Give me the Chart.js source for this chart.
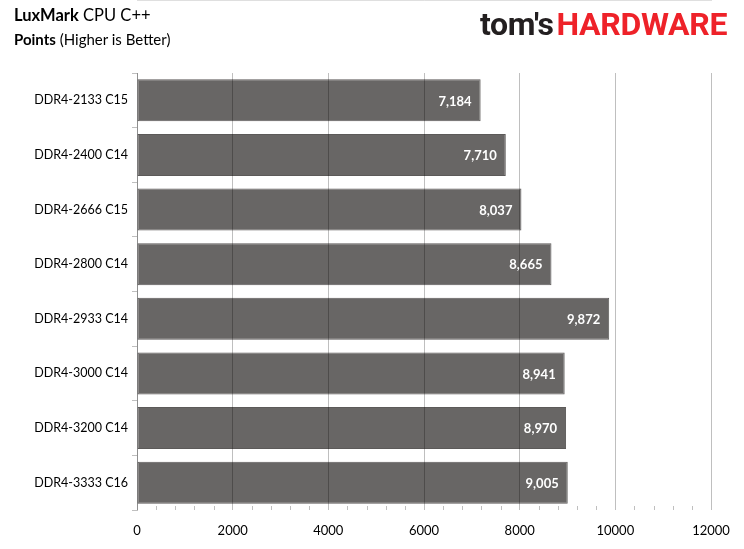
<!DOCTYPE html>
<html>
<head>
<meta charset="utf-8">
<script src="https://cdn.jsdelivr.net/npm/chart.js@4"></script>
<style>
  html, body { margin: 0; padding: 0; background: #fff; }
  #wrap { position: relative; width: 744px; height: 549px; }
  #chart { position: absolute; left: 0; top: 0; }
  .title { position: absolute; left: 14px; top: 5px; font: 16.5px Lato, sans-serif; color: #000; }
  .sub { position: absolute; left: 14px; top: 30px; font: 15px Lato, sans-serif; color: #000; }
  .logo { position: absolute; left: 480px; top: 5px; font: bold 32px Roboto, sans-serif; letter-spacing: -0.3px; }
  .logo .a { color: #231f20; margin-right: 3px; }
  .logo .b { color: #ee2229; }
</style>
</head>
<body>
<div id="wrap">
  <canvas id="chart" width="744" height="549"></canvas>
  <div class="title"><b>LuxMark</b> CPU C++</div>
  <div class="sub"><b>Points</b> (Higher is Better)</div>
  <div class="logo"><span class="a">tom's</span><span class="b">HARDWARE</span></div>
</div>
<script>
'use strict';

const categories = [
  'DDR4-2133 C15', 'DDR4-2400 C14', 'DDR4-2666 C15', 'DDR4-2800 C14',
  'DDR4-2933 C14', 'DDR4-3000 C14', 'DDR4-3200 C14', 'DDR4-3333 C16',
];
const points = [7184, 7710, 8037, 8665, 9872, 8941, 8970, 9005];
const xTicks = [0, 2000, 4000, 6000, 8000, 10000, 12000];

const FONT = 'Lato, sans-serif';

// value labels inside the bar end
const valueLabels = {
  id: 'valueLabels',
  afterDatasetsDraw(chart) {
    const ctx = chart.ctx;
    const meta = chart.getDatasetMeta(0);
    ctx.save();
    ctx.font = `bold 13px ${FONT}`;
    ctx.fillStyle = '#ffffff';
    ctx.textAlign = 'right';
    ctx.textBaseline = 'middle';
    meta.data.forEach((bar, i) => {
      ctx.fillText(points[i].toLocaleString('en-US'), bar.x - 9, bar.y + 1);
    });
    ctx.restore();
  },
};

// small inner minor tick marks on the value axis
const minorTicks = {
  id: 'minorTicks',
  afterDraw(chart) {
    const scale = chart.scales.x;
    const ctx = chart.ctx;
    const y = chart.chartArea.bottom;
    ctx.save();
    ctx.strokeStyle = '#bfbfbf';
    ctx.lineWidth = 1;
    scale.ticks.forEach(t => {
      if (t.value % 2000 === 0) return;
      const x = Math.round(scale.getPixelForValue(t.value)) + 0.5;
      ctx.beginPath();
      ctx.moveTo(x, y - 4);
      ctx.lineTo(x, y);
      ctx.stroke();
    });
    ctx.restore();
  },
};

new Chart(document.getElementById('chart').getContext('2d'), {
  type: 'bar',
  data: {
    labels: categories,
    datasets: [{
      data: points,
      backgroundColor: '#686665',
      borderColor: '#5c5a59',
      borderWidth: 1,
      borderSkipped: false,
      categoryPercentage: 1,
      barPercentage: 0.77,
    }],
  },
  options: {
    responsive: false,
    animation: false,
    indexAxis: 'y',
    layout: { padding: { top: 73, right: 33, bottom: 0, left: 0 } },
    plugins: { legend: { display: false }, tooltip: { enabled: false } },
    scales: {
      x: {
        min: 0,
        max: 12000,
        afterBuildTicks(scale) {
          const t = [];
          for (let v = 0; v <= 12000; v += 400) t.push({ value: v });
          scale.ticks = t;
        },
        afterFit(scale) { scale.height = 39; },
        grid: {
          z: 1,
          color: c => (c.tick && xTicks.includes(c.tick.value) ? 'rgba(0,0,0,0.25)' : 'rgba(0,0,0,0)'),
          drawTicks: false,
        },
        border: { color: '#bfbfbf' },
        ticks: {
          autoSkip: false,
          maxRotation: 0,
          padding: 13,
          color: '#000',
          font: { family: FONT, size: 13 },
          callback: v => (xTicks.includes(v) ? String(v) : ''),
        },
      },
      y: {
        afterFit(scale) { scale.width = 137; },
        grid: {
          offset: true,
          drawOnChartArea: false,
          tickColor: '#bfbfbf',
          tickLength: 5,
        },
        border: { color: '#bfbfbf' },
        ticks: {
          padding: 4,
          color: '#000',
          font: { family: FONT, size: 12.5 },
        },
      },
    },
  },
  plugins: [valueLabels, minorTicks],
});
</script>
</body>
</html>
